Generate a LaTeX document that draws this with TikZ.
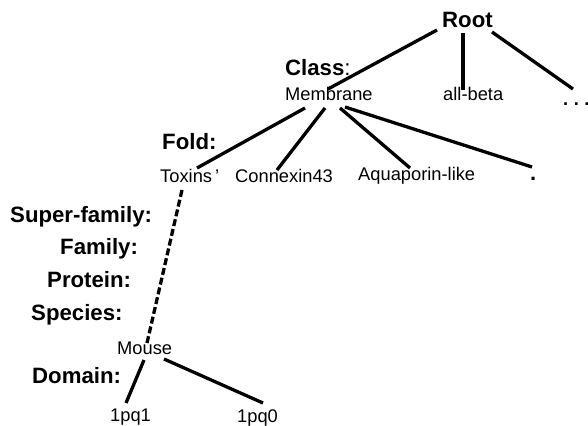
\documentclass[tikz,border=0pt]{standalone}
\usepackage{fontspec}
\setmainfont{Liberation Sans}
\begin{document}
\begin{tikzpicture}[x=1pt,y=-1pt,
  lvl/.style={anchor=base west,inner sep=0pt,font=\fontsize{22.2}{25}\selectfont\bfseries},
  item/.style={anchor=base west,inner sep=0pt,font=\fontsize{18.3}{21}\selectfont},
  edge/.style={line width=3.3pt},
  dedge/.style={line width=3.3pt,dash pattern=on 7pt off 3pt}]
\useasboundingbox (0,0) rectangle (588,425);
% level labels
\node[lvl] (root) at (442,28) {Root};
\node[lvl] (lclass) at (285,76) {Class\textmd{:}};
\node[lvl] (lfold) at (162,149) {Fold:};
\node[lvl] (lsuper) at (10,222) {Super-family:};
\node[lvl] (lfamily) at (60,254) {Family:};
\node[lvl] (lprotein) at (47,287) {Protein:};
\node[lvl] (lspecies) at (31,320) {Species:};
\node[lvl] (ldomain) at (32,383) {Domain:};
% items
\node[item] (membrane) at (285,100) {Membrane};
\node[item] (allbeta) at (443,100) {all-beta};
\node[item,font=\fontsize{18.3}{21}\selectfont\bfseries] (dots) at (563,106) {.\hspace{5.5pt}.\hspace{5.5pt}.};
\node[item] (toxins) at (160,182) {Toxins\,’};
\node[item] (connexin) at (235,182) {Connexin43};
\node[item] (aqua) at (358,180) {Aquaporin-like};
\node[item,font=\fontsize{22}{24}\selectfont\bfseries] (dot) at (530,180) {.};
\node[item] (mouse) at (117,354) {Mouse};
\node[item] (pqone) at (110,421) {1pq1};
\node[item] (pqzero) at (237,422) {1pq0};
% connectors
\draw[edge] ([shift={(-5,2)}]root.base west) -- ([shift={(43,-11)}]membrane.base west);
\draw[edge] ([shift={(21,5)}]root.base west) -- ([shift={(20,-10)}]allbeta.base west);
\draw[edge] ([shift={(50,4)}]root.base west) -- ([shift={(10,-17)}]dots.base west);
\draw[edge] ([shift={(20,8)}]membrane.base west) -- ([shift={(37,-14)}]toxins.base west);
\draw[edge] ([shift={(40,8)}]membrane.base west) -- ([shift={(42,-12)}]connexin.base west);
\draw[edge] ([shift={(55,8)}]membrane.base west) -- ([shift={(52,-12)}]aqua.base west);
\draw[edge] ([shift={(60,7)}]membrane.base west) -- ([shift={(2,-13)}]dot.base west);
\draw[dedge] ([shift={(22,8)}]toxins.base west) -- ([shift={(30,-11)}]mouse.base west);
\draw[edge] ([shift={(27,6)}]mouse.base west) -- ([shift={(16,-18)}]pqone.base west);
\draw[edge] ([shift={(47,5)}]mouse.base west) -- ([shift={(26,-19)}]pqzero.base west);
\end{tikzpicture}
\end{document}
